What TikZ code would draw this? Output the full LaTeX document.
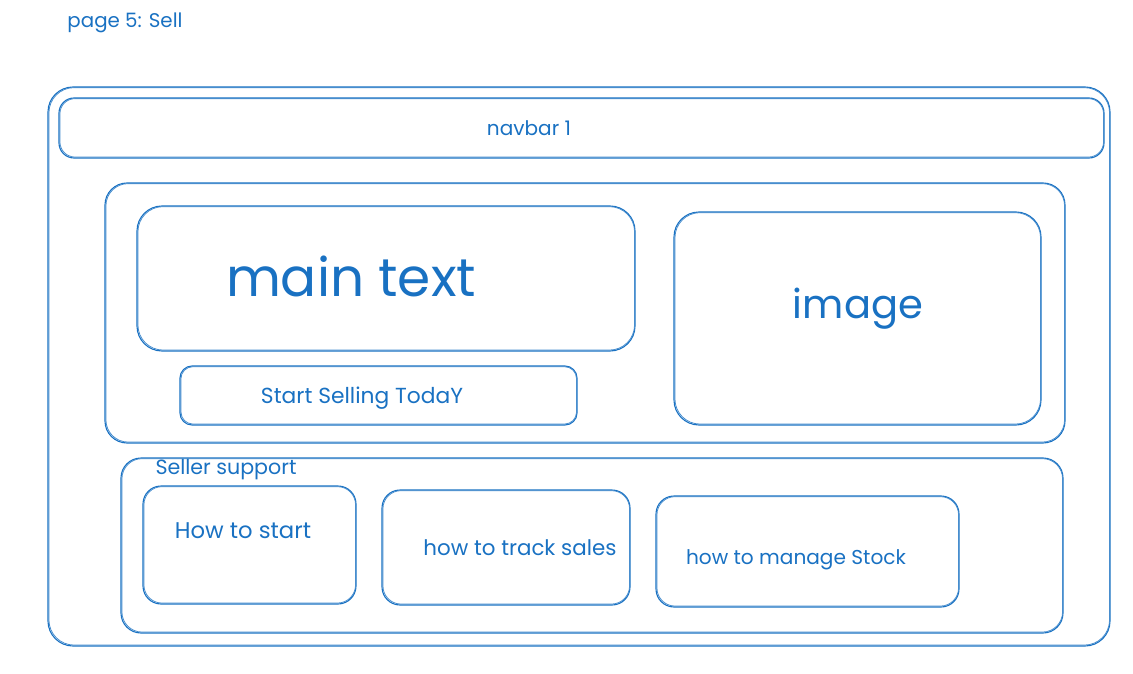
\documentclass[tikz,border=0pt]{standalone}
\usepackage{fontspec}
\setmainfont{Poppins}
\usepackage{graphicx}
\definecolor{sk}{HTML}{1971C2}
\newcommand\fw[2]{\resizebox{#1pt}{!}{#2}}
\tikzset{
  box/.style={draw=sk, line width=1.1pt, rectangle, inner sep=0pt},
  box2/.style={draw=sk!80, line width=0.8pt},
  txt/.style={text=sk, inner sep=0pt, anchor=center},
}
% \sketchbox{name}{x1}{y1}{x2}{y2}{radius}
\newcommand\sketchbox[6]{%
  \node[box, rounded corners=#6pt, minimum width={#4pt-#2pt}, minimum height={#5pt-#3pt}]
    (#1) at ({(#2+#4)/2},{(#3+#5)/2}) {};
  \draw[box2, rounded corners=#6pt] ([xshift=1.5pt,yshift=-1.2pt]#1.north west) rectangle ([xshift=-1pt,yshift=1.5pt]#1.south east);
}
\begin{document}
\begin{tikzpicture}[x=1pt,y=-1pt]
\useasboundingbox (0,0) rectangle (1133,674);
\node[txt] (title) at (125,23) {\fw{115}{page 5: Sell}};
\sketchbox{outer}{48}{87}{1110}{646}{25}
\sketchbox{navbar}{59}{98}{1104}{158}{15}
\node[txt] (navt) at (529,128) {\fw{84}{navbar 1}};
\sketchbox{hero}{105}{183}{1065}{443}{22}
\sketchbox{main}{137}{206}{635}{351}{25}
\node[txt] (maint) at (351,276) {\fw{250}{main text}};
\sketchbox{img}{674}{212}{1041}{425}{25}
\node[txt] (imgt) at (858,309) {\fw{130}{image}};
\sketchbox{cta}{180}{366}{577}{425}{12}
\node[txt] (ctat) at (362,398) {\fw{202}{Start Selling TodaY}};
\sketchbox{support}{121}{458}{1063}{633}{20}
\node[txt] (supt) at (226,470) {\fw{141}{Seller support}};
\sketchbox{h1}{143}{486}{356}{604}{18}
\node[txt] (h1t) at (243,531) {\fw{136}{How to start}};
\sketchbox{h2}{382}{490}{630}{605}{18}
\node[txt] (h2t) at (520,548) {\fw{193}{how to track sales}};
\sketchbox{h3}{656}{496}{959}{607}{18}
\node[txt] (h3t) at (796,560) {\fw{220}{how to manage Stock}};
\end{tikzpicture}
\end{document}
